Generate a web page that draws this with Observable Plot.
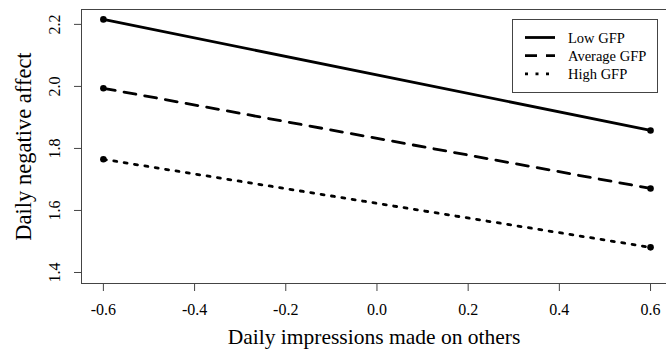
<!DOCTYPE html>
<html>
<head>
<meta charset="utf-8">
<script src="https://cdn.jsdelivr.net/npm/d3@7"></script>
<script src="https://cdn.jsdelivr.net/npm/@observablehq/plot@0.6"></script>
<style>
  html, body { margin: 0; padding: 0; background: #fff; }
  #wrap { position: relative; width: 666px; height: 355px; overflow: hidden; }
  #legend { position: absolute; left: 512px; top: 19px; width: 144px; height: 72px;
            border: 1px solid #444; background: #fff; font-family: "Liberation Serif", "Times New Roman", serif;
            font-size: 14.5px; color: #000; }
  #legend svg { position: absolute; left: 0; top: 0; }
</style>
</head>
<body>
<div id="wrap"></div>
<script>
// ---- data ----
const xLevels = [-0.6, 0.6];
const lowGFP = [2.216, 1.858];
const avgGFP = [1.994, 1.671];
const highGFP = [1.765, 1.481];
const seriesNames = ["Low GFP", "Average GFP", "High GFP"];
const xTicks = [-0.6, -0.4, -0.2, 0.0, 0.2, 0.4, 0.6];
const yTicks = [1.4, 1.6, 1.8, 2.0, 2.2];
const xDomain = [-0.648, 0.635];
const yDomain = [1.3645, 2.248];
const xTitle = "Daily impressions made on others";
const yTitle = "Daily negative affect";

const rows = (vals, name) => xLevels.map((x, i) => ({x, y: vals[i], series: name}));
const low = rows(lowGFP, seriesNames[0]);
const avg = rows(avgGFP, seriesNames[1]);
const high = rows(highGFP, seriesNames[2]);
const all = [...low, ...avg, ...high];

const serif = "'Liberation Serif', 'Times New Roman', serif";
const fmt = d => d.toFixed(1);

const chart = Plot.plot({
  width: 666,
  height: 355,
  marginLeft: 81,
  marginRight: 0,
  marginTop: 9,
  marginBottom: 72,
  style: {fontFamily: serif, color: "#000", background: "#fff"},
  x: {domain: xDomain},
  y: {domain: yDomain},
  marks: [
    Plot.ruleX([xDomain[0]], {stroke: "#444", strokeWidth: 1}),
    Plot.ruleY([yDomain[0], yDomain[1]], {stroke: "#444", strokeWidth: 1}),
    Plot.axisX({ticks: xTicks, tickSize: 8, tickPadding: 12, tickFormat: fmt, fontSize: 16, label: null, stroke: "#444"}),
    Plot.axisY({ticks: yTicks, tickSize: 7, tickFormat: () => "", label: null, stroke: "#444"}),
    Plot.text(yTicks, {y: d => d, frameAnchor: "left", dx: -27, rotate: -90, text: fmt, fontSize: 16, textAnchor: "middle"}),
    Plot.line(low, {x: "x", y: "y", stroke: "#000", strokeWidth: 2.8}),
    Plot.line(avg, {x: "x", y: "y", stroke: "#000", strokeWidth: 2.8, strokeDasharray: "12,9"}),
    Plot.line(high, {x: "x", y: "y", stroke: "#000", strokeWidth: 2.8, strokeDasharray: "3,7.5"}),
    Plot.dot(all, {x: "x", y: "y", r: 3.3, fill: "#000"}),
    Plot.text([xTitle], {frameAnchor: "bottom", dy: 60, fontSize: 21.5, textAnchor: "middle"}),
    Plot.text([yTitle], {frameAnchor: "left", dx: -58, rotate: -90, fontSize: 22.5, textAnchor: "middle"})
  ]
});

const wrap = document.getElementById("wrap");
wrap.appendChild(chart);

// legend
const legend = document.createElement("div");
legend.id = "legend";
const dashes = [null, "12,9", "3,7.5"];
const ns = "http://www.w3.org/2000/svg";
const svg = document.createElementNS(ns, "svg");
svg.setAttribute("width", 144);
svg.setAttribute("height", 72);
seriesNames.forEach((name, i) => {
  const y = 17.5 + i * 18.2;
  const ln = document.createElementNS(ns, "line");
  ln.setAttribute("x1", 12); ln.setAttribute("x2", 42);
  ln.setAttribute("y1", y); ln.setAttribute("y2", y);
  ln.setAttribute("stroke", "#000"); ln.setAttribute("stroke-width", 2.8);
  if (dashes[i]) ln.setAttribute("stroke-dasharray", dashes[i]);
  svg.appendChild(ln);
  const t = document.createElementNS(ns, "text");
  t.setAttribute("x", 55); t.setAttribute("y", y);
  t.setAttribute("dy", "0.35em");
  t.setAttribute("font-family", serif);
  t.setAttribute("font-size", 14.5);
  t.textContent = name;
  svg.appendChild(t);
});
legend.appendChild(svg);
wrap.appendChild(legend);
</script>
</body>
</html>
